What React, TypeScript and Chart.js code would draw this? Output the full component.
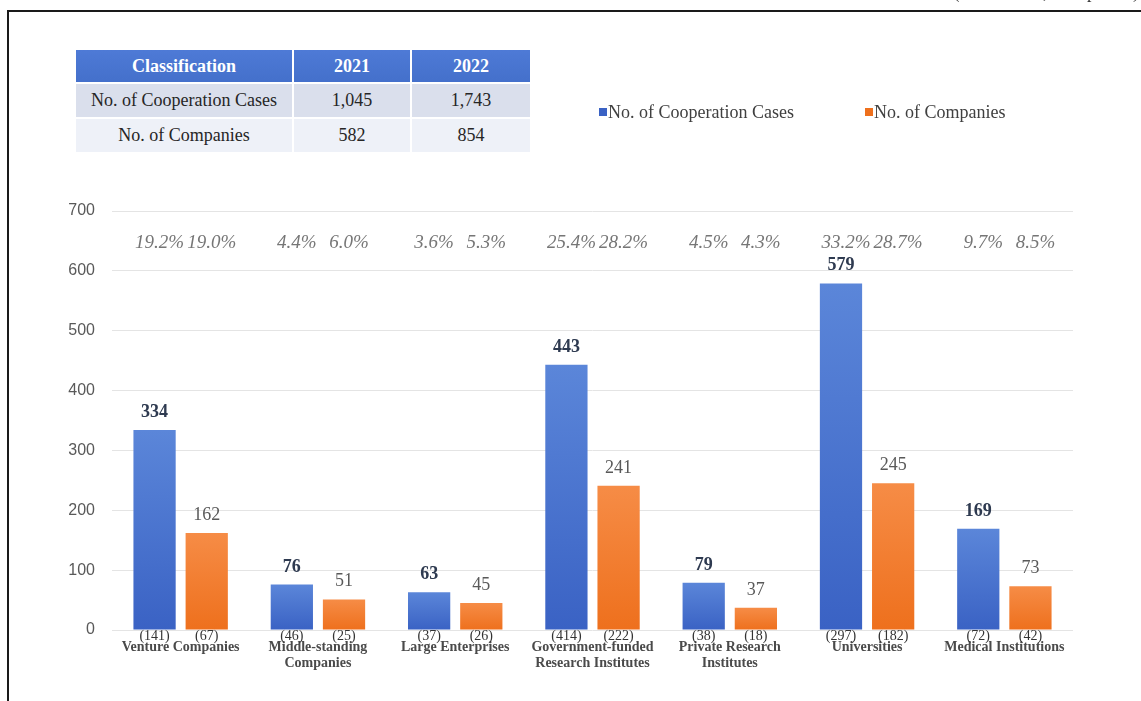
import React, { useEffect, useRef } from "react";
import { Chart, registerables } from "chart.js";

Chart.register(...registerables);

const categories: string[][] = [
  ["Venture Companies"],
  ["Middle-standing", "Companies"],
  ["Large Enterprises"],
  ["Government-funded", "Research Institutes"],
  ["Private Research", "Institutes"],
  ["Universities"],
  ["Medical Institutions"],
];
const seriesNames = ["No. of Cooperation Cases", "No. of Companies"];
const cases2022 = [334, 76, 63, 443, 79, 579, 169];
const companies2022 = [162, 51, 45, 241, 37, 245, 73];
const cases2021 = [141, 46, 37, 414, 38, 297, 72];
const companies2021 = [67, 25, 26, 222, 18, 182, 42];
const casesShare = [19.2, 4.4, 3.6, 25.4, 4.5, 33.2, 9.7];
const companiesShare = [19.0, 6.0, 5.3, 28.2, 4.3, 28.7, 8.5];
const yTicks = [0, 100, 200, 300, 400, 500, 600, 700];

const tableHeader = ["Classification", "2021", "2022"];
const tableRows: string[][] = [
  ["No. of Cooperation Cases", "1,045", "1,743"],
  ["No. of Companies", "582", "854"],
];
const unitText = "(Unit: Cases, Companies)";

const SERIF = '"Liberation Serif", "Times New Roman", serif';
const SANS = '"Liberation Sans", Arial, sans-serif';

const gradients = [
  ["#5b86d9", "#3a62c4"],
  ["#f68c46", "#ee701d"],
];

const labelPlugin = {
  id: "barLabels",
  afterDatasetsDraw(chart: any) {
    const ctx = chart.ctx;
    const area = chart.chartArea;
    const shares = [casesShare, companiesShare];
    const counts = [cases2021, companies2021];
    chart.data.datasets.forEach((ds: any, di: number) => {
      const meta = chart.getDatasetMeta(di);
      meta.data.forEach((bar: any, i: number) => {
        const x = bar.x;
        ctx.save();
        ctx.textAlign = "center";
        ctx.textBaseline = "alphabetic";
        ctx.font = (di === 0 ? "bold " : "") + "18px " + SERIF;
        ctx.fillStyle = di === 0 ? "#2e3a50" : "#595959";
        ctx.fillText(String(ds.data[i]), x, bar.y - 13);
        ctx.font = "italic 19px " + SERIF;
        ctx.fillStyle = "#767676";
        ctx.fillText(shares[di][i].toFixed(1) + "%", x + 5, area.top + 37);
        ctx.font = "14px " + SERIF;
        ctx.fillStyle = "#333333";
        ctx.textBaseline = "middle";
        ctx.fillText("(" + counts[di][i] + ")", x, area.bottom + 6);
        ctx.restore();
      });
    });
  },
};

function makeGradient(ctx: any, di: number) {
  const chart = ctx.chart;
  const y = chart.scales && chart.scales.y;
  if (!y || ctx.type !== "data") return gradients[di][1];
  const v = ctx.raw as number;
  const top = y.getPixelForValue(v);
  const base = y.getPixelForValue(0);
  if (!isFinite(top) || !isFinite(base) || base - top < 1) return gradients[di][1];
  const g = chart.ctx.createLinearGradient(0, top, 0, base);
  g.addColorStop(0, gradients[di][0]);
  g.addColorStop(1, gradients[di][1]);
  return g;
}

export default function App() {
  const canvasRef = useRef<HTMLCanvasElement | null>(null);

  useEffect(() => {
    const canvas = canvasRef.current;
    if (!canvas) return;
    const chart = new Chart(canvas, {
      type: "bar",
      data: {
        labels: categories,
        datasets: [
          {
            label: seriesNames[0],
            data: cases2022,
            backgroundColor: (c: any) => makeGradient(c, 0),
            categoryPercentage: 0.76,
            barPercentage: 0.81,
          },
          {
            label: seriesNames[1],
            data: companies2022,
            backgroundColor: (c: any) => makeGradient(c, 1),
            categoryPercentage: 0.76,
            barPercentage: 0.81,
          },
        ],
      },
      options: {
        responsive: false,
        animation: false,
        devicePixelRatio: 1,
        layout: { padding: { top: 211, right: 68, bottom: 0, left: 0 } },
        plugins: {
          legend: { display: false },
          tooltip: { enabled: false },
          title: { display: false },
        },
        scales: {
          x: {
            grid: { display: false, drawTicks: false },
            border: { display: false },
            ticks: {
              padding: 9,
              color: "#4a4a4a",
              font: { family: SERIF, size: 14, weight: "bold", lineHeight: 1.15 },
              maxRotation: 0,
              autoSkip: false,
            },
            afterFit: (s: any) => {
              s.height = 71;
            },
          },
          y: {
            min: 0,
            max: 700,
            afterBuildTicks: (s: any) => {
              s.ticks = yTicks.map((v) => ({ value: v }));
            },
            grid: { color: "#e4e4e4", drawTicks: false, lineWidth: 1 },
            border: { display: false },
            ticks: {
              padding: 17,
              color: "#595959",
              font: { family: SANS, size: 16 },
            },
            afterFit: (s: any) => {
              s.width = 112;
            },
          },
        },
      },
      plugins: [labelPlugin],
    } as any);
    return () => chart.destroy();
  }, []);

  const cellBase: React.CSSProperties = {
    position: "absolute",
    display: "flex",
    alignItems: "center",
    justifyContent: "center",
    fontFamily: SERIF,
    fontSize: 18,
    color: "#262626",
  };
  const cols = [
    { left: 76, width: 216 },
    { left: 294, width: 116 },
    { left: 412, width: 118 },
  ];
  const rowsPos = [
    { top: 84, height: 33, bg: "#dadfec" },
    { top: 119, height: 33, bg: "#eef1f8" },
  ];

  return (
    <div
      style={{
        position: "fixed",
        left: 0,
        top: 0,
        width: 1141,
        height: 701,
        overflow: "hidden",
        background: "#ffffff",
      }}
    >
      <canvas
        ref={canvasRef}
        width={1141}
        height={701}
        style={{ position: "absolute", left: 0, top: 0, width: 1141, height: 701 }}
      />
      <div
        style={{
          position: "absolute",
          left: 7,
          top: 10,
          width: 1200,
          height: 760,
          border: "2px solid #1a1a1a",
          pointerEvents: "none",
        }}
      />
      <div
        style={{
          position: "absolute",
          right: 2,
          top: -17,
          fontFamily: SERIF,
          fontSize: 18,
          lineHeight: "18px",
          color: "#333",
          whiteSpace: "nowrap",
        }}
      >
        {unitText}
      </div>
      {tableHeader.map((h, ci) => (
        <div
          key={"h" + ci}
          style={{
            ...cellBase,
            left: cols[ci].left,
            width: cols[ci].width,
            top: 50,
            height: 32,
            background: "linear-gradient(#4e7ad6, #4470cb)",
            color: "#ffffff",
            fontWeight: "bold",
          }}
        >
          {h}
        </div>
      ))}
      {tableRows.map((row, ri) =>
        row.map((cell, ci) => (
          <div
            key={"r" + ri + "c" + ci}
            style={{
              ...cellBase,
              left: cols[ci].left,
              width: cols[ci].width,
              top: rowsPos[ri].top,
              height: rowsPos[ri].height,
              background: rowsPos[ri].bg,
            }}
          >
            {cell}
          </div>
        ))
      )}
      {seriesNames.map((name, i) => (
        <div
          key={"lg" + i}
          style={{
            position: "absolute",
            left: i === 0 ? 599 : 865,
            top: 101,
            height: 22,
            display: "flex",
            alignItems: "center",
            fontFamily: SERIF,
            fontSize: 18,
            color: "#404040",
            whiteSpace: "nowrap",
          }}
        >
          <span
            style={{
              display: "inline-block",
              width: 8,
              height: 8,
              background: gradients[i][1],
              marginRight: 1,
            }}
          />
          {name}
        </div>
      ))}
    </div>
  );
}
